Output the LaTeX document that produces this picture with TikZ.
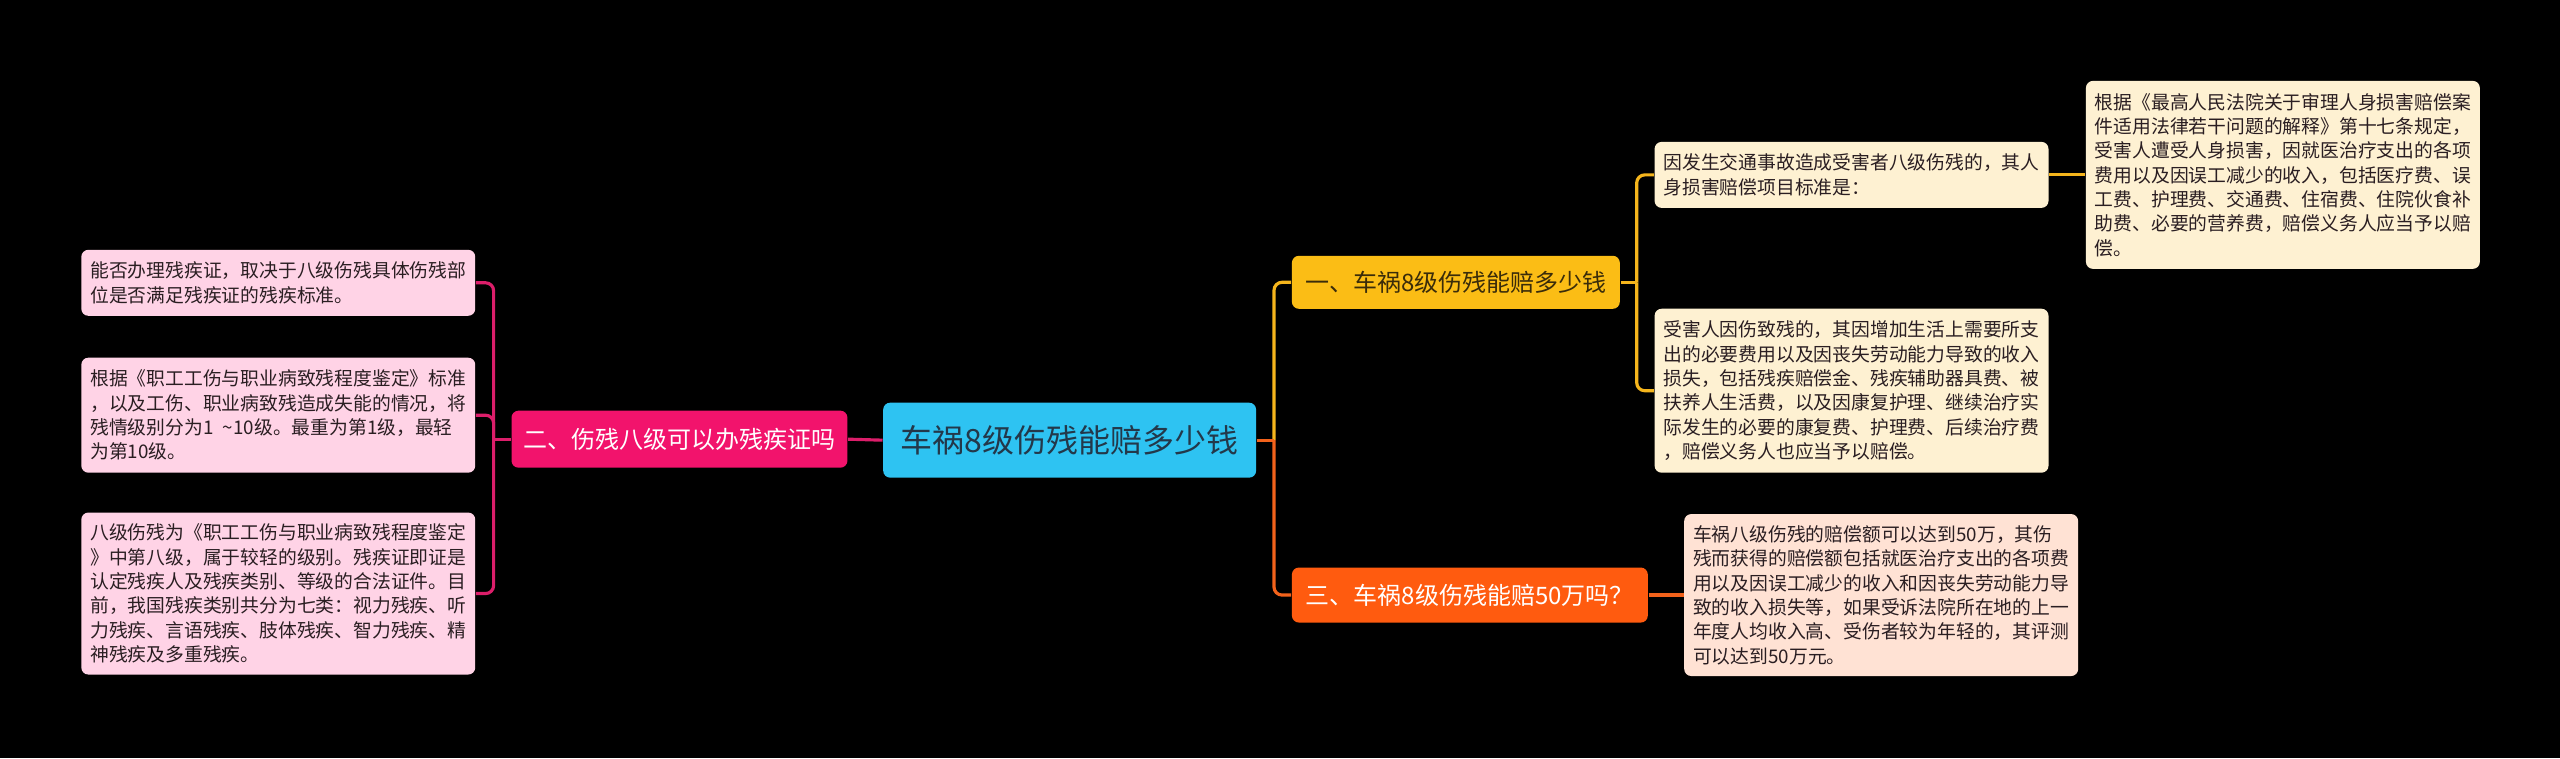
\documentclass[tikz,border=0pt]{standalone}
\usepackage{fontspec}
\setmainfont{Noto Sans CJK SC}
\usetikzlibrary{positioning, calc}

\definecolor{bgblack}{HTML}{000000}
\definecolor{rootcyan}{HTML}{2EC3F2}
\definecolor{roottext}{HTML}{23384A}
\definecolor{pinkmain}{HTML}{F2136C}
\definecolor{pinkleaf}{HTML}{FFD3E6}
\definecolor{pinkline}{HTML}{DC1E6A}
\definecolor{yelmain}{HTML}{FBBD15}
\definecolor{yeltext}{HTML}{3A2C0A}
\definecolor{yelleaf}{HTML}{FEF1D2}
\definecolor{yelline}{HTML}{F5B51C}
\definecolor{ormain}{HTML}{FF5B0F}
\definecolor{orleaf}{HTML}{FFE2D4}
\definecolor{orline}{HTML}{F2621B}
\definecolor{leaftext}{HTML}{2A1E22}

\begin{document}
\begin{tikzpicture}[
    x=0.01cm, y=-0.01cm,
    box/.style={rectangle, rounded corners=0.07cm, inner sep=0pt},
    rootbox/.style={box, fill=rootcyan, text=roottext, align=center, font=\fontsize{9.1pt}{11pt}\selectfont, minimum width=3.73cm, minimum height=0.75cm},
    mainbox/.style={box, align=center, font=\fontsize{6.83pt}{8pt}\selectfont},
    pinkbox/.style={mainbox, fill=pinkmain, text=white, minimum width=3.36cm, minimum height=0.57cm},
    yelbox/.style={mainbox, fill=yelmain, text=yeltext, minimum width=3.28cm, minimum height=0.53cm},
    orbox/.style={mainbox, fill=ormain, text=white, minimum width=3.56cm, minimum height=0.55cm},
    leafbox/.style={box, align=left, text=leaftext, font=\fontsize{5.35pt}{6.93pt}\selectfont, minimum width=3.94cm},
    pinkleafbox/.style={leafbox, fill=pinkleaf},
    yelleafbox/.style={leafbox, fill=yelleaf},
    orleafbox/.style={leafbox, fill=orleaf},
    pinklink/.style={draw=pinkline, line width=0.9pt, rounded corners=0.08cm},
    yellink/.style={draw=yelline, line width=0.9pt, rounded corners=0.08cm},
    orlink/.style={draw=orline, line width=0.9pt, rounded corners=0.08cm}
]

% fondo
\fill[bgblack] (-1,-1) rectangle (2561,758);
\useasboundingbox (0,0) rectangle (2560,757);

% ========== RAIZ ==========
\node[rootbox] (root) at (1069.5,439.5) {车祸8级伤残能赔多少钱};

% ========== RAMA IZQUIERDA ==========
\node[pinkbox] (partTwo) at (679,438.5) {二、伤残八级可以办残疾证吗};

\node[pinkleafbox, minimum height=0.66cm] (twoA) at (277.5,282) {能否办理残疾证，取决于八级伤残具体伤残部\\位是否满足残疾证的残疾标准。};
\node[pinkleafbox, minimum height=1.15cm] (twoB) at (277.5,414.5) {根据《职工工伤与职业病致残程度鉴定》标准\\，以及工伤、职业病致残造成失能的情况，将\\残情级别分为1\enspace\textasciitilde10级。最重为第1级，最轻\\为第10级。};
\node[pinkleafbox, minimum height=1.62cm] (twoC) at (277.5,593) {八级伤残为《职工工伤与职业病致残程度鉴定\\》中第八级，属于较轻的级别。残疾证即证是\\认定残疾人及残疾类别、等级的合法证件。目\\前，我国残疾类别共分为七类：视力残疾、听\\力残疾、言语残疾、肢体残疾、智力残疾、精\\神残疾及多重残疾。};

% ========== RAMA DERECHA ==========
\node[yelbox] (partOne) at (1456,281.5) {一、车祸8级伤残能赔多少钱};
\node[orbox] (partThree) at (1470,594.5) {三、车祸8级伤残能赔50万吗？};

\node[yelleafbox, minimum height=0.66cm] (oneA) at (1852,174) {因发生交通事故造成受害者八级伤残的，其人\\身损害赔偿项目标准是：};
\node[yelleafbox, minimum height=1.64cm] (oneB) at (1852,390) {受害人因伤致残的，其因增加生活上需要所支\\出的必要费用以及因丧失劳动能力导致的收入\\损失，包括残疾赔偿金、残疾辅助器具费、被\\扶养人生活费，以及因康复护理、继续治疗实\\际发生的必要的康复费、护理费、后续治疗费\\，赔偿义务人也应当予以赔偿。};
\node[yelleafbox, minimum height=1.88cm, right=0.36cm of oneA] (oneAA) {根据《最高人民法院关于审理人身损害赔偿案\\件适用法律若干问题的解释》第十七条规定，\\受害人遭受人身损害，因就医治疗支出的各项\\费用以及因误工减少的收入，包括医疗费、误\\工费、护理费、交通费、住宿费、住院伙食补\\助费、必要的营养费，赔偿义务人应当予以赔\\偿。};

\node[orleafbox, minimum height=1.62cm, right=0.35cm of partThree] (threeA) {车祸八级伤残的赔偿额可以达到50万，其伤\\残而获得的赔偿额包括就医治疗支出的各项费\\用以及因误工减少的收入和因丧失劳动能力导\\致的收入损失等，如果受诉法院所在地的上一\\年度人均收入高、受伤者较为年轻的，其评测\\可以达到50万元。};

% Coordenadas de las lineas verticales
\coordinate (spineL) at (493,438.5);
\coordinate (spineR) at (1274,439.5);
\coordinate (spineOne) at (1637,281.5);

% Conectores izquierda
\draw[pinklink] (root.west) -- (partTwo.east);
\draw[pinklink] (partTwo.west) -- (spineL);
\foreach \leaf in {twoA, twoB, twoC}
    \draw[pinklink] (spineL) |- (\leaf.east);

% Conectores derecha
\draw[yellink] (spineR) |- (partOne.west);
\draw[orlink] (spineR) |- (partThree.west);
\draw[orlink] (root.east) -- (spineR);

\draw[yellink] (partOne.east) -- (spineOne);
\foreach \leaf in {oneA, oneB}
    \draw[yellink] (spineOne) |- (\leaf.west);
\draw[yellink] (oneA.east) -- (oneAA.west);

\draw[orlink] (partThree.east) -- (threeA.west);

\end{tikzpicture}
\end{document}
